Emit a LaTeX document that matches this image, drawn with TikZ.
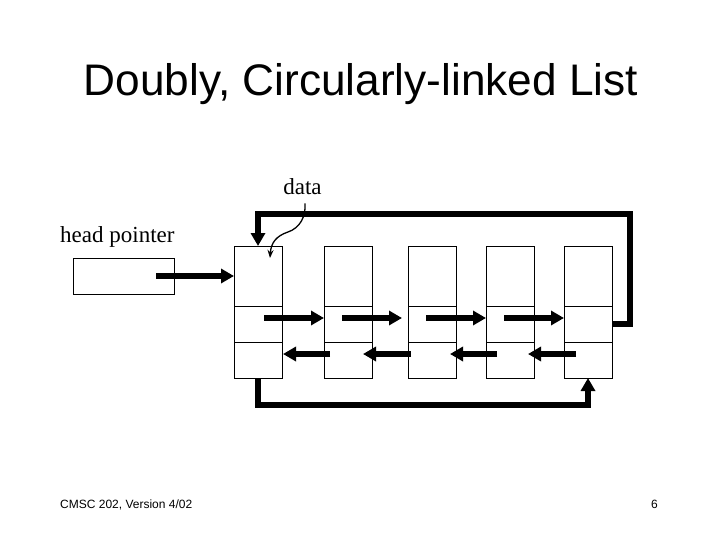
\documentclass[tikz,border=0pt]{standalone}
\usepackage{fontspec}
\setmainfont{Liberation Serif}
\newfontfamily\arialf{Liberation Sans}
\usetikzlibrary{arrows.meta,calc}
\begin{document}
\begin{tikzpicture}[x=1pt,y=-1pt,
  cell/.style={draw,line width=0.8pt,minimum width=48pt,inner sep=0pt,outer sep=0pt},
  datacell/.style={cell,minimum height=60pt},
  ptrcell/.style={cell,minimum height=36pt},
  ptr/.style={line width=6pt,-{Triangle[length=13pt,width=14pt]}},
  loopline/.style={line width=5.5pt,line join=miter,-{Triangle[length=13pt,width=14pt]}},
  lbl/.style={font=\fontsize{23}{23}\selectfont,inner sep=0pt},
  thin/.style={line width=1.3pt,-{Stealth[length=8pt,width=6pt]}}]
\useasboundingbox (0,0) rectangle (720,540);
% title and footer
\node[font=\arialf\fontsize{44.2}{44.2}\selectfont,anchor=base,inner sep=0pt] (title) at (361,96) {Doubly, Circularly-linked List};
\node[font=\arialf\fontsize{12}{12}\selectfont,anchor=base west,inner sep=0pt] (foot) at (60,508) {CMSC 202, Version 4/02};
\node[font=\arialf\fontsize{12}{12}\selectfont,anchor=base west,inner sep=0pt] (page) at (651,508) {6};
% labels
\node[lbl,anchor=base west] (hplabel) at (60,242) {head pointer};
\node[lbl,anchor=base] (data) at (302.5,195) {data};
% head pointer box
\node[cell,minimum width=101pt,minimum height=36pt] (hp) at (123.5,276) {};
% list nodes
\foreach \i/\x in {1/258,2/348,3/432,4/510,5/588}{
  \node[datacell] (n\i a) at (\x,276) {};
  \node[ptrcell] (n\i b) at (\x,324) {};
  \node[ptrcell] (n\i c) at (\x,360) {};
}
% head pointer arrow
\draw[ptr] ([shift={(32.5,0)}]hp.center) -- (n1a.west);
% forward arrows
\draw[ptr] ([shift={(30,-6)}]n1b.west) -- ([shift={(0,-6)}]n2b.west);
\draw[ptr] ([shift={(18,-6)}]n2b.west) -- ([shift={(-6,-6)}]n3b.west);
\draw[ptr] ([shift={(18,-6)}]n3b.west) -- ([shift={(0,-6)}]n4b.west);
\draw[ptr] ([shift={(18,-6)}]n4b.west) -- ([shift={(0,-6)}]n5b.west);
% backward arrows
\draw[ptr] ([shift={(6,-6)}]n2c.west) -- ([shift={(1,-6)}]n1c.east);
\draw[ptr] ([shift={(3,-6)}]n3c.west) -- ([shift={(-9,-6)}]n2c.east);
\draw[ptr] ([shift={(11,-6)}]n4c.west) -- ([shift={(-6,-6)}]n3c.east);
\draw[ptr] ([shift={(12,-6)}]n5c.west) -- ([shift={(-6,-6)}]n4c.east);
% circular links
\coordinate (tr) at (630,214);
\coordinate (bl) at (258,405);
\draw[loopline] (n5b.east) -| (tr) -| (n1a.north);
\draw[loopline] (n1c.south) -- (bl) -| (n5c.south);
% data pointer
\coordinate (dtip) at ([shift={(12,-18)}]n1a.center);
\draw[thin] ([shift={(2.5,8)}]data.south) .. controls ++(1,13) and (300,228) .. (288,232) .. controls (276,236) and (271,243) .. (dtip);
\end{tikzpicture}
\end{document}
